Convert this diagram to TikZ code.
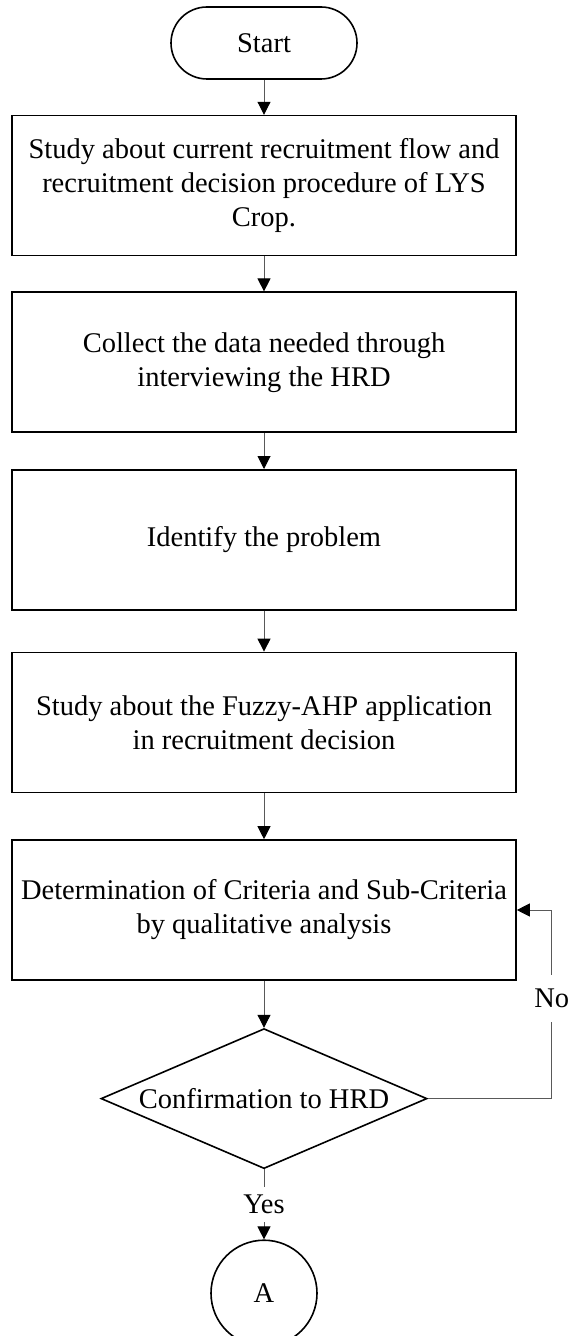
\documentclass[tikz,border=0pt]{standalone}
\usepackage{fontspec}
\setmainfont{Liberation Serif}
\usetikzlibrary{arrows.meta,positioning,shapes.geometric}

\begin{document}
\begin{tikzpicture}[
  node distance=17.5pt,
  font=\fontsize{14.25}{17}\selectfont,
  box/.style={draw, line width=0.8pt, minimum width=252pt, minimum height=70pt, align=center, inner sep=0pt},
  term/.style={draw, line width=0.8pt, rounded corners=18pt, minimum width=93pt, minimum height=36pt},
  decide/.style={draw, diamond, line width=0.8pt, minimum width=163pt, minimum height=70pt, aspect=2.33, inner sep=0pt},
  conn/.style={draw, circle, line width=0.8pt, minimum size=53pt, inner sep=0pt},
  lbl/.style={fill=white, inner xsep=2pt, inner ysep=4pt},
  flow/.style={-{Triangle[length=6.5pt, width=6.5pt, color=black]}, line width=0.5pt, draw=black!65}
]
\useasboundingbox (0,0) rectangle (284.5pt,-668pt);
\node[term] (start) at (132pt,-21.5pt) {Start};
\node[box, below=of start] (s1) {Study about current recruitment flow and\\ recruitment decision procedure of LYS\\ Crop.};
\node[box, below=of s1] (s2) {Collect the data needed through\\ interviewing the HRD};
\node[box, below=18pt of s2] (s3) {Identify the problem};
\node[box, below=20.5pt of s3] (s4) {Study about the Fuzzy-AHP application\\ in recruitment decision};
\node[box, below=23pt of s4] (s5) {Determination of Criteria and Sub-Criteria\\ by qualitative analysis};
\node[decide, below=23.5pt of s5] (dec) {Confirmation to HRD};
\node[conn, below=35pt of dec] (a) {A};
\coordinate[right=17.5pt of s5.east] (back);
\foreach \a/\b in {start/s1,s1/s2,s2/s3,s3/s4,s4/s5,s5/dec}
  \draw[flow] (\a) -- (\b);
\draw[flow] (dec) -- node[lbl] {Yes} (a);
\draw[flow] (dec.east) -| node[lbl, pos=0.766, inner ysep=7pt] {No} (back) -- (s5.east);
\end{tikzpicture}
\end{document}
